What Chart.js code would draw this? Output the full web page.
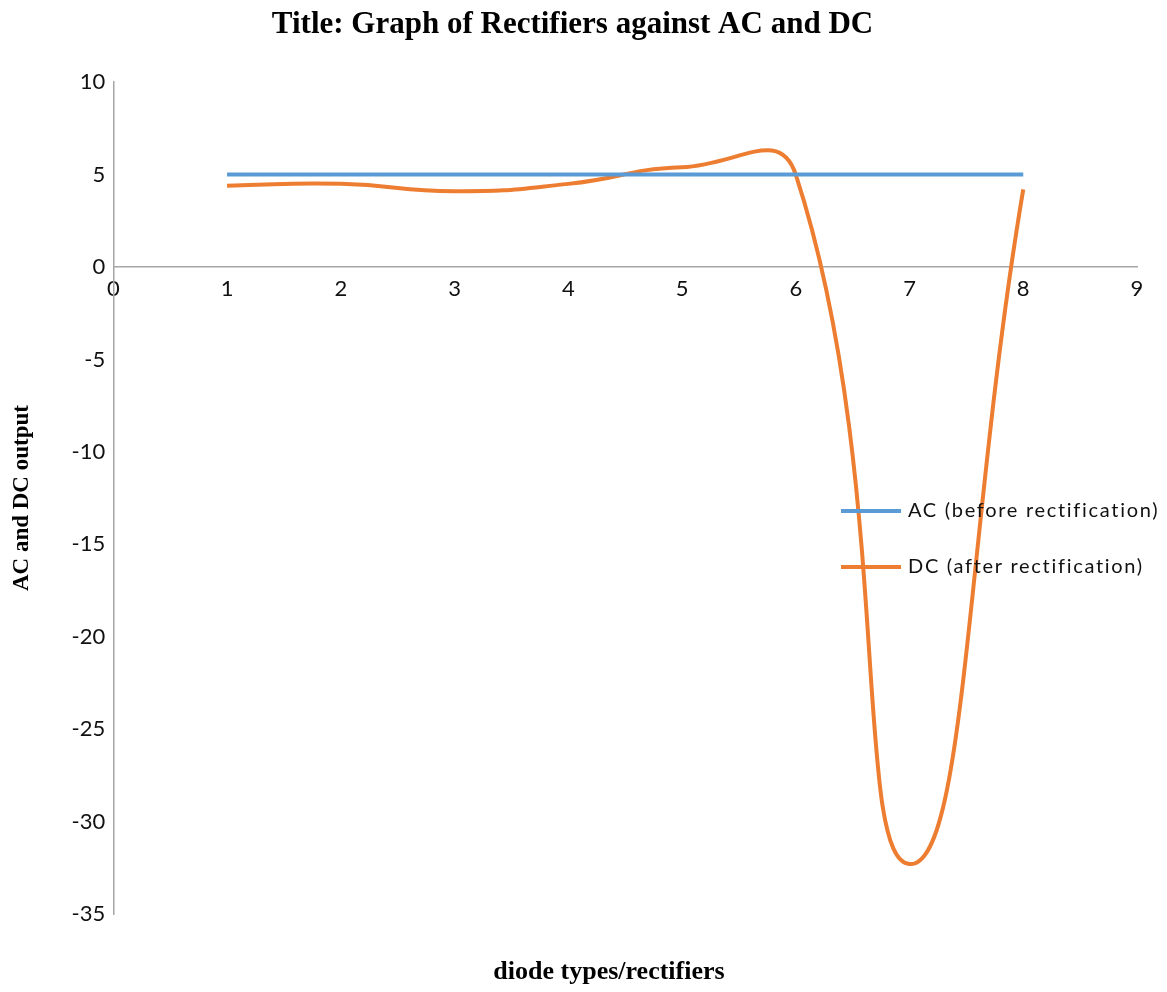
<!DOCTYPE html>
<html>
<head>
<meta charset="utf-8">
<script src="https://cdn.jsdelivr.net/npm/chart.js@4/dist/chart.umd.min.js"></script>
<style>
  html, body { margin: 0; padding: 0; background: #ffffff; }
  #wrap { width: 1167px; height: 992px; }
</style>
</head>
<body>
<div id="wrap"><canvas id="c" width="1167" height="992"></canvas></div>
<script>
// Diode types / rectifiers along the x axis
const diodeTypes = [1, 2, 3, 4, 5, 6, 7, 8];
// Output before rectification
const acOutput = [5, 5, 5, 5, 5, 5, 5, 5];
// Output after rectification
const dcOutput = [4.4, 4.5, 4.1, 4.5, 5.4, 5.0, -32.3, 4.2];

const seriesLabels = ['AC (before rectification)', 'DC (after rectification)'];
const seriesColors = ['#5B9BD5', '#ED7D31'];
const xAxisCaption = 'diode types/rectifiers';

const xTicks = { min: 0, max: 9, step: 1 };
const yTicks = { min: -35, max: 10, step: 5 };

const toPoints = (xs, ys) => xs.map((x, i) => ({ x: x, y: ys[i] }));

// Legend rows inside the plot on the right, plus the caption under the plot
const sideLegend = {
  id: 'sideLegend',
  afterDatasetsDraw(chart) {
    const ctx = chart.ctx;
    const rows = [511, 567];
    ctx.save();
    ctx.font = '20px Lato';
    ctx.letterSpacing = '1.7px';
    ctx.textBaseline = 'middle';
    ctx.textAlign = 'left';
    chart.data.datasets.forEach((ds, i) => {
      const y = rows[i];
      ctx.strokeStyle = ds.borderColor;
      ctx.lineWidth = 4;
      ctx.beginPath();
      ctx.moveTo(841, y);
      ctx.lineTo(901, y);
      ctx.stroke();
      ctx.fillStyle = '#111';
      ctx.fillText(ds.label, 908, y);
    });
    ctx.letterSpacing = '0px';
    ctx.font = 'bold 26px "Liberation Serif"';
    ctx.textAlign = 'center';
    ctx.fillStyle = '#000';
    ctx.fillText(xAxisCaption, 609, 972);
    ctx.restore();
  }
};

new Chart(document.getElementById('c'), {
  type: 'line',
  data: {
    datasets: [
      {
        label: seriesLabels[0],
        data: toPoints(diodeTypes, acOutput),
        borderColor: seriesColors[0],
        backgroundColor: seriesColors[0],
        borderWidth: 4,
        pointRadius: 0,
        tension: 0.5,
        fill: false
      },
      {
        label: seriesLabels[1],
        data: toPoints(diodeTypes, dcOutput),
        borderColor: seriesColors[1],
        backgroundColor: seriesColors[1],
        borderWidth: 4,
        pointRadius: 0,
        tension: 0.5,
        fill: false
      }
    ]
  },
  options: {
    responsive: false,
    animation: false,
    devicePixelRatio: 1,
    layout: { padding: { left: 8, right: 30, top: 6, bottom: 78 } },
    plugins: {
      legend: { display: false },
      tooltip: { enabled: false },
      title: {
        display: true,
        text: 'Title: Graph of Rectifiers against AC and DC',
        color: '#000',
        font: { family: 'Liberation Serif', size: 31, weight: 'bold' },
        padding: { top: 0, bottom: 39 }
      }
    },
    scales: {
      x: {
        type: 'linear',
        position: { y: 0 },
        min: xTicks.min,
        max: xTicks.max,
        grid: { display: false, drawTicks: false },
        border: { display: true, color: '#a6a6a6', width: 1.5 },
        ticks: {
          stepSize: xTicks.step,
          color: '#111',
          font: { family: 'Lato', size: 22 },
          padding: 9,
          maxRotation: 0
        }
      },
      y: {
        type: 'linear',
        position: 'left',
        min: yTicks.min,
        max: yTicks.max,
        grid: { display: false, drawTicks: false },
        border: { display: true, color: '#a6a6a6', width: 1.5 },
        ticks: {
          stepSize: yTicks.step,
          color: '#111',
          font: { family: 'Lato', size: 22 },
          padding: 8
        },
        title: {
          display: true,
          text: 'AC and DC output',
          color: '#000',
          font: { family: 'Liberation Serif', size: 23, weight: 'bold' },
          padding: { top: 0, bottom: 28 }
        }
      }
    }
  },
  plugins: [sideLegend]
});
</script>
</body>
</html>
